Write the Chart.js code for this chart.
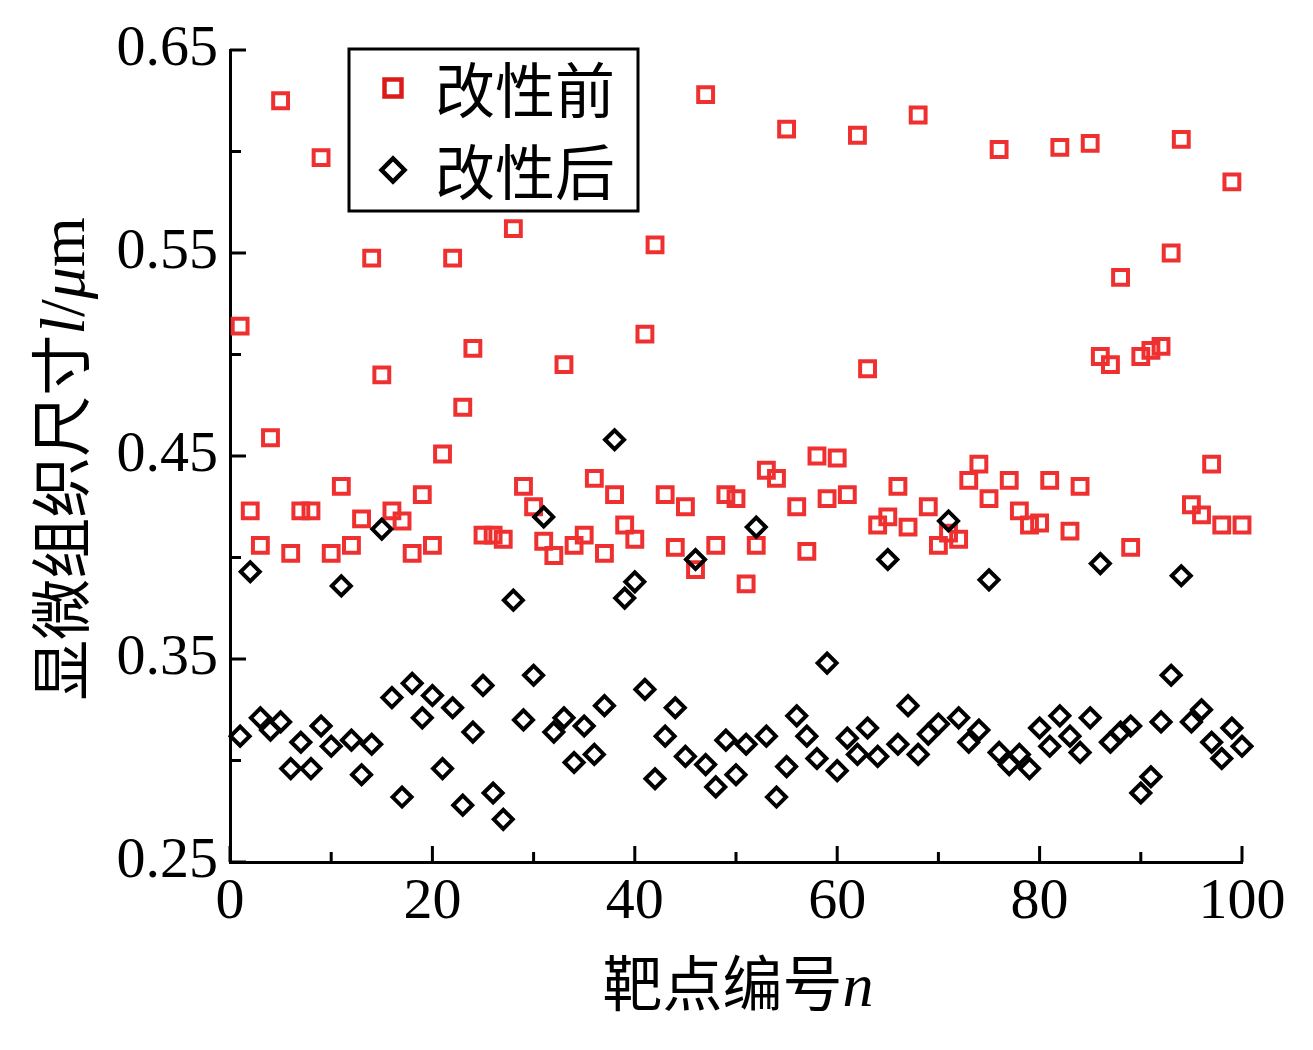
<!DOCTYPE html>
<html>
<head>
<meta charset="utf-8">
<script src="https://cdn.jsdelivr.net/npm/chart.js@4.4.1/dist/chart.umd.min.js"></script>
<style>
  body { margin: 0; background: #fff; }
  #wrap { width: 1313px; height: 1050px; }
</style>
</head>
<body>
<div id="wrap"><canvas id="sizeChart" width="1313" height="1050"></canvas></div>
<script>
// target point number n (1..100)
const targetNo = Array.from({ length: 100 }, (_, i) => i + 1);

// microstructure size l (um), before modification
const beforeMod = [
  0.514, 0.423, 0.406, 0.459, 0.625, 0.402, 0.423, 0.423, 0.597, 0.402,
  0.435, 0.406, 0.419, 0.5475, 0.490, 0.423, 0.418, 0.402, 0.431, 0.406,
  0.451, 0.5475, 0.474, 0.503, 0.411, 0.411, 0.409, 0.562, 0.435, 0.425,
  0.408, 0.401, 0.495, 0.406, 0.411, 0.439, 0.402, 0.431, 0.416, 0.409,
  0.510, 0.554, 0.431, 0.405, 0.425, 0.394, 0.628, 0.406, 0.431, 0.429,
  0.387, 0.406, 0.443, 0.439, 0.611, 0.425, 0.403, 0.450, 0.429, 0.449,
  0.431, 0.608, 0.493, 0.416, 0.420, 0.435, 0.415, 0.618, 0.425, 0.406,
  0.412, 0.409, 0.438, 0.446, 0.429, 0.601, 0.438, 0.423, 0.416, 0.417,
  0.438, 0.602, 0.413, 0.435, 0.604, 0.499, 0.495, 0.538, 0.405, 0.499,
  0.502, 0.504, 0.550, 0.606, 0.426, 0.421, 0.446, 0.416, 0.585, 0.416
];

// microstructure size l (um), after modification
const afterMod = [
  0.312, 0.393, 0.321, 0.315, 0.319, 0.296, 0.309, 0.296, 0.317, 0.307,
  0.386, 0.310, 0.293, 0.308, 0.414, 0.331, 0.282, 0.338, 0.321, 0.332,
  0.296, 0.326, 0.278, 0.314, 0.337, 0.284, 0.271, 0.379, 0.320, 0.342,
  0.420, 0.314, 0.321, 0.299, 0.317, 0.303, 0.327, 0.458, 0.380, 0.388,
  0.335, 0.291, 0.312, 0.326, 0.302, 0.399, 0.298, 0.287, 0.310, 0.293,
  0.308, 0.415, 0.312, 0.282, 0.297, 0.322, 0.312, 0.301, 0.348, 0.295,
  0.311, 0.303, 0.316, 0.302, 0.399, 0.308, 0.327, 0.303, 0.313, 0.318,
  0.418, 0.321, 0.309, 0.315, 0.389, 0.304, 0.298, 0.303, 0.296, 0.316,
  0.307, 0.322, 0.312, 0.304, 0.321, 0.397, 0.309, 0.314, 0.317, 0.284,
  0.292, 0.319, 0.342, 0.391, 0.319, 0.325, 0.309, 0.301, 0.316, 0.307
];

const seriesNames = ['改性前', '改性后'];
const xTicks = [0, 20, 40, 60, 80, 100];
const xMinorTicks = [10, 30, 50, 70, 90];
const yTicks = [0.25, 0.35, 0.45, 0.55, 0.65];
const yMinorTicks = [0.30, 0.40, 0.50, 0.60];

const redColor = '#ef3030';
const serifFont = '"Liberation Serif", "Times New Roman", serif';
const cjkFont = '"Noto Sans CJK SC", sans-serif';

function toPoints(values) {
  return values.map((v, i) => ({ x: targetNo[i], y: v }));
}

// draws text runs with mixed fonts, centred on x
function drawRuns(ctx, runs, x, y) {
  let w = 0;
  runs.forEach(r => { ctx.font = r.font; w += ctx.measureText(r.text).width; });
  let cx = x - w / 2;
  runs.forEach(r => {
    ctx.font = r.font;
    ctx.fillText(r.text, cx, y);
    cx += ctx.measureText(r.text).width;
  });
}

const decor = {
  id: 'decor',
  afterDraw(chart) {
    const { ctx, chartArea: a, scales: { x, y } } = chart;
    ctx.save();
    ctx.strokeStyle = '#000';
    ctx.lineWidth = 3;
    ctx.beginPath();
    xTicks.forEach(v => { const p = x.getPixelForValue(v); ctx.moveTo(p, a.bottom); ctx.lineTo(p, a.bottom - 16); });
    xMinorTicks.forEach(v => { const p = x.getPixelForValue(v); ctx.moveTo(p, a.bottom); ctx.lineTo(p, a.bottom - 10); });
    yTicks.forEach(v => { const p = y.getPixelForValue(v); ctx.moveTo(a.left, p); ctx.lineTo(a.left + 16, p); });
    yMinorTicks.forEach(v => { const p = y.getPixelForValue(v); ctx.moveTo(a.left, p); ctx.lineTo(a.left + 11, p); });
    ctx.stroke();

    // axis titles
    ctx.fillStyle = '#000';
    ctx.textBaseline = 'alphabetic';
    ctx.textAlign = 'left';
    drawRuns(ctx, [
      { text: '靶点编号', font: '60px ' + cjkFont },
      { text: 'n', font: 'italic 62px ' + serifFont }
    ], (a.left + a.right) / 2 + 2, 1006);

    ctx.save();
    ctx.translate(62, 459);
    ctx.rotate(-Math.PI / 2);
    drawRuns(ctx, [
      { text: '显微组织尺寸', font: '61px ' + cjkFont },
      { text: 'l', font: 'italic 64px ' + serifFont },
      { text: '/', font: '64px ' + serifFont },
      { text: 'μ', font: 'italic 64px ' + serifFont },
      { text: 'm', font: '64px ' + serifFont }
    ], 0, 22);
    ctx.restore();

    // legend
    ctx.lineWidth = 3;
    ctx.strokeRect(349, 49, 289, 162);
    const rows = [88, 170];
    chart.data.datasets.forEach((ds, i) => {
      ctx.strokeStyle = ds.legendColor;
      ctx.fillStyle = 'rgba(0,0,0,0)';
      ctx.lineWidth = 4.5;
      Chart.helpers.drawPoint(ctx, {
        pointStyle: ds.pointStyle,
        radius: ds.pointStyle === 'rect' ? 12 : 11.5,
        rotation: 0,
        borderWidth: 4.5
      }, 393, rows[i]);
      ctx.fillStyle = '#000';
      ctx.font = '60px ' + cjkFont;
      ctx.textBaseline = 'middle';
      ctx.fillText(ds.label, 435, rows[i] + 2);
    });
    ctx.restore();
  }
};

new Chart(document.getElementById('sizeChart'), {
  type: 'scatter',
  data: {
    datasets: [
      {
        label: seriesNames[0],
        data: toPoints(beforeMod),
        pointStyle: 'rect',
        pointRadius: 10.5,
        pointBorderWidth: 4,
        pointBorderColor: redColor,
        pointBackgroundColor: 'rgba(0,0,0,0)',
        borderColor: redColor,
        legendColor: '#dc1a1a',
        clip: false,
        order: 1
      },
      {
        label: seriesNames[1],
        data: toPoints(afterMod),
        pointStyle: 'rectRot',
        pointRadius: 9.5,
        pointBorderWidth: 4,
        pointBorderColor: '#000',
        pointBackgroundColor: 'rgba(0,0,0,0)',
        borderColor: '#000',
        legendColor: '#000',
        clip: false,
        order: 0
      }
    ]
  },
  options: {
    responsive: false,
    animation: false,
    devicePixelRatio: 1,
    layout: { padding: { left: 0, top: 50, right: 71, bottom: 0 } },
    plugins: {
      legend: { display: false },
      tooltip: { enabled: false }
    },
    scales: {
      x: {
        type: 'linear',
        min: 0,
        max: 100,
        afterFit: s => { s.height = 188; },
        afterBuildTicks: s => { s.ticks = xTicks.map(v => ({ value: v })); },
        grid: { display: true, drawOnChartArea: false, drawTicks: false },
        border: { display: true, color: '#000', width: 3 },
        ticks: {
          color: '#000',
          padding: 6,
          maxRotation: 0,
          autoSkip: false,
          font: { family: serifFont, size: 58 },
          callback: v => String(v)
        }
      },
      y: {
        type: 'linear',
        min: 0.25,
        max: 0.65,
        afterFit: s => { s.width = 230; },
        afterBuildTicks: s => { s.ticks = yTicks.map(v => ({ value: v })); },
        grid: { display: true, drawOnChartArea: false, drawTicks: false },
        border: { display: true, color: '#000', width: 3 },
        ticks: {
          color: '#000',
          padding: 12,
          autoSkip: false,
          font: { family: serifFont, size: 58 },
          callback: v => Number(v).toFixed(2)
        }
      }
    }
  },
  plugins: [decor]
});
</script>
</body>
</html>
